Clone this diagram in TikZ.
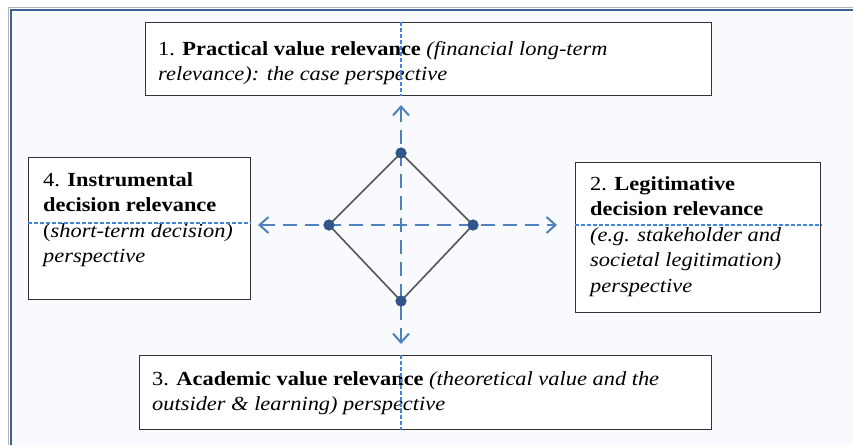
\documentclass[tikz,border=0pt]{standalone}
\usepackage{fontspec}
\setmainfont{Liberation Serif}[FakeStretch=1.12]
\usetikzlibrary{arrows.meta}
\definecolor{framebg}{HTML}{F8FAFD}
\definecolor{frameblue}{HTML}{3C6293}
\definecolor{framegray}{HTML}{B4B4B4}
\definecolor{arrowblue}{HTML}{4F81BD}
\definecolor{dotblue}{HTML}{30558A}
\definecolor{thinblue}{HTML}{3F86DA}
\definecolor{boxgray}{HTML}{333333}
\definecolor{diagray}{HTML}{555555}
\tikzset{
  pbox/.style={draw=boxgray, line width=1.3pt, fill=white, rectangle, inner sep=0pt, anchor=north west},
  ptext/.style={anchor=north west, inner sep=0pt, align=left, font=\fontsize{20}{25.5}\selectfont},
  vdot/.style={circle, fill=dotblue, inner sep=0pt, minimum size=11pt},
  bigarrow/.style={draw=arrowblue, line width=2.5pt, dash pattern=on 14pt off 8pt, {Straight Barb[length=9pt,width=16pt,line width=2pt]}-{Straight Barb[length=9pt,width=16pt,line width=2pt]}},
  thindash/.style={draw=thinblue, line width=1.1pt, dash pattern=on 3.5pt off 2.5pt},
  dia/.style={draw=diagray, line width=1.6pt}
}
\begin{document}
\begin{tikzpicture}[x=1pt,y=-1pt]
\useasboundingbox (0,0) rectangle (853,445);
\fill[white] (0,0) rectangle (853,445);
\fill[framebg] (10,9) rectangle (853,445);
\draw[framegray, line width=1.2pt] (8.5,445) -- (8.5,7.5) -- (853,7.5);
\draw[frameblue, line width=2.4pt] (11,445) -- (11,10) -- (853,10);

% boxes
\node[pbox, minimum width=566pt, minimum height=73pt] (b1) at (145,22) {};
\node[pbox, minimum width=222pt, minimum height=142pt] (b4) at (28,157) {};
\node[pbox, minimum width=245pt, minimum height=150pt] (b2) at (575,162) {};
\node[pbox, minimum width=572pt, minimum height=74pt] (b3) at (139,355) {};

% texts
\node[ptext] (t1) at (158,41) {1. \textbf{Practical value relevance} \textit{(financial long-term}\\\textit{relevance): the case perspective}};
\node[ptext] (t4) at (43,172) {4. \textbf{Instrumental}\\\textbf{decision relevance}\\(\textit{short-term decision)}\\\textit{perspective}};
\node[ptext] (t2) at (590,176) {2. \textbf{Legitimative}\\\textbf{decision relevance}\\\textit{(e.g. stakeholder and}\\\textit{societal legitimation)}\\\textit{perspective}};
\node[ptext] (t3) at (152,371) {3. \textbf{Academic value relevance} \textit{(theoretical value and the}\\\textit{outsider \& learning) perspective}};

% thin dashed guide lines
\draw[thindash] (b1.north -| 401,0) -- (b1.south -| 401,0);
\draw[thindash] (b3.north -| 401,0) -- (b3.south -| 401,0);
\draw[thindash] (b4.west |- 0,223) -- (b4.east |- 0,223);
\draw[thindash] (b2.west |- 0,225) -- (b2.east |- 0,225);

% diamond vertices
\node[vdot] (top) at (401,153) {};
\node[vdot] (lft) at (329,225) {};
\node[vdot] (rgt) at (473,225) {};
\node[vdot] (bot) at (401,301) {};
\draw[dia] (top.center) -- (rgt.center) -- (bot.center) -- (lft.center) -- cycle;

% arrows
\coordinate (wtip) at (258,225);
\coordinate (etip) at (557,225);
\coordinate (ntip) at (401,105);
\coordinate (stip) at (401,344);
\draw[bigarrow] (wtip) -- (etip);
\draw[bigarrow] (ntip) -- (stip);
\foreach \v in {top,lft,rgt,bot} \node[vdot] at (\v) {};
\end{tikzpicture}
\end{document}
